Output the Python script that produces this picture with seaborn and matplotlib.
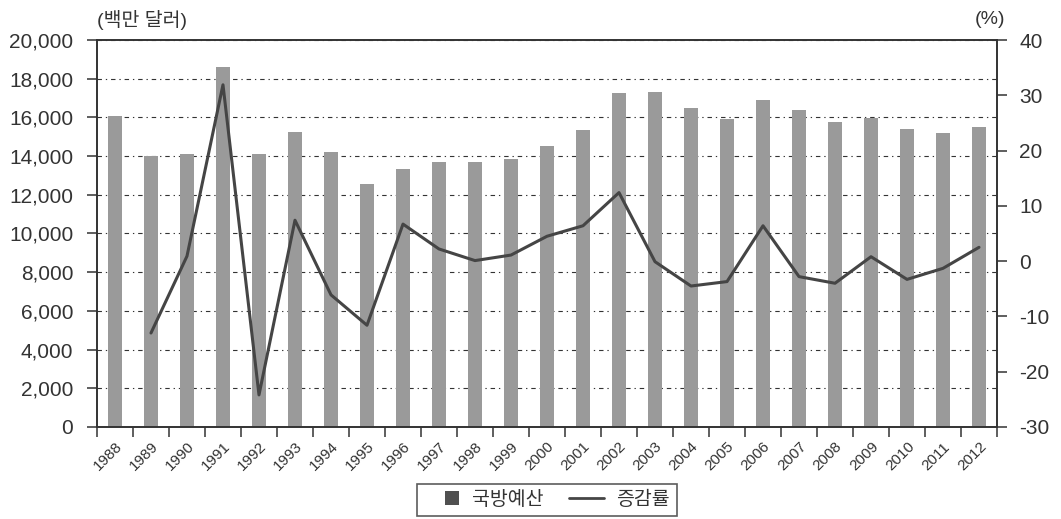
import numpy as np
import pandas as pd
import matplotlib
matplotlib.use("Agg")
import matplotlib.pyplot as plt
import matplotlib.transforms as mtrans
import seaborn as sns
from matplotlib.lines import Line2D
from matplotlib.patches import Rectangle
from matplotlib.legend_handler import HandlerBase
from matplotlib.ticker import FuncFormatter

# ---- data ----
years = ["1988", "1989", "1990", "1991", "1992", "1993", "1994", "1995", "1996",
         "1997", "1998", "1999", "2000", "2001", "2002", "2003", "2004", "2005",
         "2006", "2007", "2008", "2009", "2010", "2011", "2012"]
budget = [16050, 14000, 14100, 18600, 14100, 15250, 14200, 12550, 13350,
          13700, 13700, 13850, 14500, 15350, 17250, 17300, 16500, 15900,
          16900, 16400, 15760, 15950, 15400, 15200, 15500]
growth = [np.nan, -13.0, 0.9, 31.9, -24.2, 7.4, -6.1, -11.6, 6.7,
          2.2, 0.1, 1.1, 4.5, 6.4, 12.4, -0.1, -4.5, -3.7,
          6.4, -2.8, -4.0, 0.8, -3.3, -1.3, 2.5]
left_ticks = [0, 2000, 4000, 6000, 8000, 10000, 12000, 14000, 16000, 18000, 20000]
right_ticks = [-30, -20, -10, 0, 10, 20, 30, 40]
left_unit = "(백만 달러)"
right_unit = "(%)"
label_budget = "국방예산"
label_growth = "증감률"

df = pd.DataFrame({"year": years, "budget": budget, "growth": growth})
df["pos"] = np.arange(len(df))

sns.set_theme(style="white")
plt.rcParams["font.family"] = ["Liberation Sans", "Noto Sans CJK KR", "DejaVu Sans"]
plt.rcParams["axes.unicode_minus"] = False

TXT = "#333333"
BAR = "#9a9a9a"
LINE = "#454545"

fig = plt.figure(figsize=(10.61, 5.19), dpi=100)
ax = fig.add_axes([0.0914, 0.1773, 0.8483, 0.7456])

sns.barplot(data=df, x="year", y="budget", order=years, color=BAR,
            saturation=1, width=0.37, linewidth=0, ax=ax)
ax.set_axisbelow(True)
ax.set_ylim(0, 20000)
ax.set_yticks(left_ticks)
ax.yaxis.set_major_formatter(FuncFormatter(lambda v, p: f"{int(v):,}"))
ax.yaxis.grid(True, color="#333333", linewidth=0.8,
              linestyle=(0, (4, 3.5, 1.2, 3.5)))
ax.xaxis.grid(False)
ax.set_xlabel("")
ax.set_ylabel("")

ax2 = ax.twinx()
sns.lineplot(data=df, x="pos", y="growth", color=LINE, linewidth=2.2, ax=ax2)
ax2.set_ylim(-30, 40)
ax2.set_yticks(right_ticks)
ax2.set_xlabel("")
ax2.set_ylabel("")
ax2.grid(False)

ax.set_xlim(-0.5, len(years) - 0.5)
ax.set_xticks(np.arange(len(years)))
ax.set_xticklabels(years, rotation=45, ha="right", rotation_mode="anchor",
                   fontsize=11, color=TXT)
shift = mtrans.ScaledTranslation(9 / 100, 0, fig.dpi_scale_trans)
for lab in ax.get_xticklabels():
    lab.set_transform(lab.get_transform() + shift)
ax.set_xticks(np.arange(len(years) + 1) - 0.5, minor=True)
ax.tick_params(axis="x", which="major", length=0, pad=9)
ax.tick_params(axis="x", which="minor", length=7, width=1.1, color=TXT,
               direction="out", bottom=True)
ax.tick_params(axis="y", length=7, width=1.1, color=TXT, direction="out",
               labelsize=15, labelcolor=TXT, pad=10, left=True)
ax2.tick_params(axis="y", length=7, width=1.1, color=TXT, direction="out",
                labelsize=15, labelcolor=TXT, pad=9, right=True)

for a in (ax, ax2):
    for s in a.spines.values():
        s.set_color(TXT)
        s.set_linewidth(1.2)
        s.set_visible(True)

fig.text(97 / 1061, 1 - 20 / 519, left_unit, ha="left", va="center",
         fontsize=14, color=TXT)
fig.text(1005 / 1061, 1 - 20 / 519, right_unit, ha="right", va="center",
         fontsize=14, color=TXT)


class SquareHandler(HandlerBase):
    def create_artists(self, legend, orig_handle, xdescent, ydescent,
                       width, height, fontsize, trans):
        s = 0.75 * fontsize
        x = -xdescent + width - s
        y = -ydescent + (height - s) / 2
        return [Rectangle((x, y), s, s, facecolor="#505050",
                          edgecolor="none", transform=trans)]


sq = Rectangle((0, 0), 1, 1, facecolor="#505050")
ln = Line2D([], [], color=LINE, linewidth=2)
leg = fig.legend([sq, ln], [label_budget, label_growth], loc="lower center",
                 bbox_to_anchor=(0.5156, -0.012), ncol=2, frameon=True,
                 fancybox=False, fontsize=14, handlelength=1.8,
                 columnspacing=1.3, borderpad=0.35, handletextpad=0.65,
                 handler_map={Rectangle: SquareHandler()})
leg.get_frame().set_edgecolor(TXT)
leg.get_frame().set_linewidth(1.2)
for t in leg.get_texts():
    t.set_color(TXT)

fig.savefig("out.png", dpi=100)
